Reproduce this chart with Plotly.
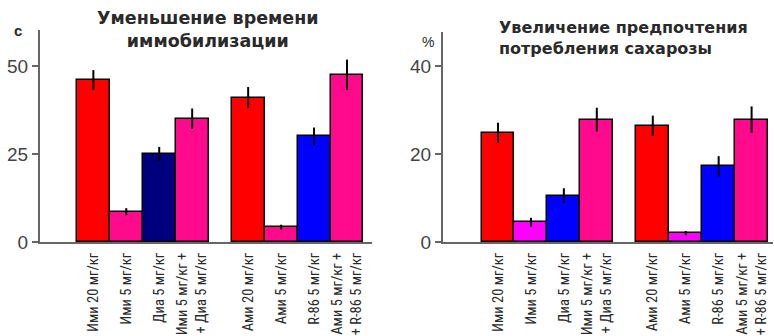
import plotly.graph_objects as go

# Treatment groups (shared by both panels)
groups = [
    "Ими 20 мг/кг", "Ими 5 мг/кг", "Диа 5 мг/кг", "Ими 5 мг/кг +<br>+ Диа 5 мг/кг",
    "Ами 20 мг/кг", "Ами 5 мг/кг", "R-86 5 мг/кг", "Ами 5 мг/кг +<br>+ R-86 5 мг/кг",
]

# Left panel: reduction of immobilisation time, s
immob_vals = [46, 8.6, 25, 35, 41, 4.2, 30, 47.5]
immob_err = [2.8, 1.0, 2.0, 2.9, 3.0, 0.7, 2.5, 4.3]
immob_colors = ["#ff0000", "#ff0a8c", "#00007f", "#ff0a8c",
                "#ff0000", "#ff0a8c", "#0000ff", "#ff0a8c"]

# Right panel: increase of sucrose preference, %
sucrose_vals = [24.8, 4.5, 10.5, 27.8, 26.4, 2.0, 17.2, 27.8]
sucrose_err = [2.3, 1.0, 1.7, 2.7, 2.3, 0.5, 2.3, 3.0]
sucrose_colors = ["#ff0000", "#ff00ff", "#0000ff", "#ff0a8c",
                  "#ff0000", "#ff00ff", "#0000ff", "#ff0a8c"]

# bar positions: two groups of four with a small gap between them
GAP = 0.7
xpos = [i + (GAP if i >= 4 else 0) for i in range(len(groups))]

AXIS_GREY = "#666666"
TEXT = "#2a2a2a"
NARROW = "Liberation Sans Narrow, Arial Narrow, Roboto Condensed, sans-serif"
SANS = "Liberation Sans, Arial, sans-serif"
WIDE = "DejaVu Sans, Verdana, sans-serif"

W, H = 774, 336

fig = go.Figure()


def add_panel(vals, errs, colors, xa, ya):
    fig.add_trace(go.Bar(
        x=xpos, y=vals, width=1.0,
        marker=dict(color=colors, line=dict(color="#000000", width=1.5)),
        error_y=dict(type="data", array=errs, visible=True,
                     color="#000000", thickness=2, width=0),
        xaxis=xa, yaxis=ya, showlegend=False,
    ))


add_panel(immob_vals, immob_err, immob_colors, "x", "y")
add_panel(sucrose_vals, sucrose_err, sucrose_colors, "x2", "y2")

base = 1 - 242 / H
xcommon = dict(
    tickmode="array", tickvals=xpos, ticktext=groups, tickangle=-90,
    tickfont=dict(family=NARROW, size=14.5, color=TEXT),
    showline=True, linecolor=AXIS_GREY, linewidth=2, ticks="",
    showgrid=False, zeroline=False, ticklabelstandoff=3, automargin=False,
)
ycommon = dict(
    showline=True, linecolor=AXIS_GREY, linewidth=2, ticks="outside",
    ticklen=6, tickwidth=1.5, tickcolor=AXIS_GREY,
    tickfont=dict(family=SANS, size=19, color="#444444"),
    showgrid=False, zeroline=False, automargin=False,
)


def px_note(text, x, y, size, xanchor="center", align="center", bold=True, family=WIDE):
    return dict(text=text, x=x / W, y=1 - y / H, xref="paper", yref="paper",
                showarrow=False, xanchor=xanchor, yanchor="middle", align=align,
                font=dict(family=family, size=size, color=TEXT,
                          weight="bold" if bold else "normal"))


fig.update_layout(
    width=W, height=H,
    margin=dict(l=0, r=0, t=0, b=0, autoexpand=False),
    paper_bgcolor="#ffffff", plot_bgcolor="#ffffff",
    bargap=0,
    xaxis=dict(domain=[40 / W, 372 / W], range=[-1.62, 8.46], anchor="y", **xcommon),
    yaxis=dict(domain=[base, 1 - 30 / H], range=[0, 60.2], anchor="x",
               tickvals=[0, 25, 50], **ycommon),
    xaxis2=dict(domain=[443 / W, 773 / W], range=[-1.67, 8.35], anchor="y2", **xcommon),
    yaxis2=dict(domain=[base, 1 - 32 / H], range=[0, 47.7], anchor="x2",
                tickvals=[0, 20, 40], **ycommon),
    annotations=[
        px_note("Уменьшение времени<br>иммобилизации", 208, 29.5, 17.5),
        px_note("Увеличение предпочтения<br>потребления сахарозы", 497, 37.5, 16,
                xanchor="left", align="left"),
        px_note("с", 18, 30, 15, family=SANS),
        px_note("%", 428, 42, 14, bold=False, family=SANS),
    ],
)

fig.write_html("out.html")
